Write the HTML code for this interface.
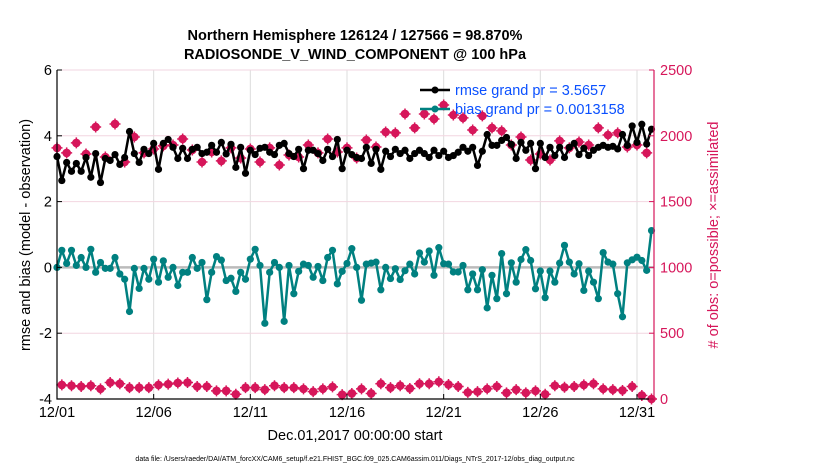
<!DOCTYPE html>
<html><head><meta charset="utf-8"><style>
body{margin:0;background:#fff;width:830px;height:470px;overflow:hidden;font-family:"Liberation Sans",sans-serif}
</style></head><body>
<svg id="chart" width="830" height="470" xmlns="http://www.w3.org/2000/svg" font-family="Liberation Sans, sans-serif">
<text x="355" y="40" text-anchor="middle" font-size="14.5" font-weight="bold">Northern Hemisphere 126124 / 127566 = 98.870%</text>
<text x="355" y="59" text-anchor="middle" font-size="14.5" font-weight="bold">RADIOSONDE_V_WIND_COMPONENT @ 100 hPa</text>
<g id="grid"></g><g id="marks"></g><g id="axes"></g>
<text x="355" y="440" text-anchor="middle" font-size="14.5">Dec.01,2017 00:00:00 start</text>
<text transform="translate(30,235) rotate(-90)" text-anchor="middle" font-size="14.5">rmse and bias (model - observation)</text>
<text transform="translate(718,235) rotate(-90)" text-anchor="middle" font-size="14.5" fill="#d6165a"># of obs: o=possible; ×=assimilated</text>
<text x="355" y="461" text-anchor="middle" font-size="7">data file: /Users/raeder/DAI/ATM_forcXX/CAM6_setup/f.e21.FHIST_BGC.f09_025.CAM6assim.011/Diags_NTrS_2017-12/obs_diag_output.nc</text>
<g>
<line x1="420" y1="90" x2="450" y2="90" stroke="#000" stroke-width="2.5"/><circle cx="435" cy="90" r="3.5" fill="#000"/>
<text x="455" y="95" font-size="14.5" fill="#0a50ff">rmse grand pr = 3.5657</text>
<line x1="420" y1="109" x2="450" y2="109" stroke="#008080" stroke-width="2.5"/><circle cx="435" cy="109" r="3.5" fill="#008080"/>
<text x="455" y="114" font-size="14.5" fill="#0a50ff">bias grand pr = 0.0013158</text>
</g>
</svg>
<script>
const rmse=[3.37,2.64,3.19,2.92,3.16,2.92,3.34,2.74,3.46,2.58,3.31,3.25,3.43,3.13,3.34,4.13,3.46,3.19,3.59,3.46,3.77,2.98,3.77,3.89,3.65,3.31,3.62,3.31,3.59,3.65,3.46,3.5,3.71,3.5,3.8,3.45,3.74,3.04,3.65,2.86,3.56,3.43,3.62,3.65,3.5,3.43,3.71,3.77,3.46,3.37,3.59,3.0,3.56,3.56,3.46,3.25,3.59,3.37,3.89,3.0,3.56,
3.43,3.34,3.31,3.65,3.16,3.59,2.98,3.53,3.37,3.59,3.46,3.56,3.31,3.46,3.56,3.46,3.34,3.56,3.4,3.53,3.34,3.4,3.5,3.65,3.53,3.65,3.1,3.53,4.04,3.71,3.71,3.86,3.95,3.74,3.31,3.8,3.56,3.77,3.0,3.77,3.34,3.65,3.4,3.65,3.34,3.65,3.77,3.43,3.62,3.4,3.56,3.65,3.71,3.65,3.68,3.6,4.04,3.71,4.3,3.8,4.35,3.75,4.2];
const bias=[0,0.52,0.12,0.52,0.06,0.3,0,0.55,-0.15,0.15,-0.03,-0.03,0.3,-0.2,-0.36,-1.34,-0.03,-0.64,-0.03,-0.36,0.25,-0.45,0.2,-0.3,0,-0.55,-0.15,-0.15,0.3,-0.03,0.15,-0.98,-0.15,0.33,0.22,-0.4,-0.33,-0.73,-0.15,-0.36,0.25,0.55,0.06,-1.7,-0.15,0.15,0,-1.64,0.06,-0.8,-0.12,0.1,0.06,-0.3,0.03,-0.4,0.3,0.52,-0.5,-0.12,0.12,
0.57,0,-1.0,0.1,0.13,0.16,-0.68,0,-0.34,-0.04,-0.37,-0.1,0.1,-0.2,0.44,0.16,0.5,-0.24,0.6,0.11,0.1,-0.14,-0.14,0.06,-0.68,-0.2,-0.68,-0.07,-1.23,-0.24,-0.95,0.42,-0.8,0.14,-0.45,0.24,0.54,0.21,-0.65,-0.11,-0.92,-0.11,-0.45,0.13,0.67,0.16,-0.2,0.11,-0.7,-0.11,-0.45,-0.95,0.45,0.16,0.1,-0.8,-1.5,0.14,0.23,0.31,0.21,-0.09,1.12];
const obsMain=[1908,1870,1946,1862,2067,1839,2090,1801,1991,1870,1900,1923,1930,1976,1892,1801,1877,1809,1908,1831,1900,1801,1908,1778,1854,1839,1930,1870,1976,1877,1908,
1831,1968,1915,2029,2022,2166,2060,2166,2128,2234,2158,2136,2044,2151,2060,2037,1930,1991,1816,1862,1816,1961,1908,1953,1930,2060,2006,2022,1915,1930,1870];
const obsOff=[107,101,95,101,77,125,116,86,86,86,107,113,122,125,95,95,62,62,36,86,86,71,101,86,86,77,56,77,92,33,42,77,42,116,86,101,80,116,116,131,110,95,50,56,77,95,47,71,47,62,36,101,89,95,107,116,77,71,65,95,27,0];
const xTickLabels=['12/01','12/06','12/11','12/16','12/21','12/26','12/31'];
const xTickDays=[0,5,10,15,20,25,30];
const yLeftTicks=[6,4,2,0,-2,-4];
const yRightTicks=[2500,2000,1500,1000,500,0];

const L=57,R=654,T=70,B=399,dayW=(637-57)/30;
const x=i=>L+i*dayW/4;
const xd=d=>L+d*dayW;
const yl=v=>B-(v+4)/10*(B-T);
const yr=v=>B-v/2500*(B-T);
const NS='http://www.w3.org/2000/svg';
function mk(tag,attrs,parent){const e=document.createElementNS(NS,tag);for(const k in attrs)e.setAttribute(k,attrs[k]);parent.appendChild(e);return e;}
const grid=document.getElementById('grid'),marks=document.getElementById('marks'),axes=document.getElementById('axes');
xTickDays.forEach((d,i)=>{const g=mk('line',{x1:xd(d),x2:xd(d),y1:T,y2:B,stroke:'#dcdcdc','stroke-width':1},grid);

});
yRightTicks.forEach(v=>{const g=mk('line',{x1:L,x2:R,y1:yr(v),y2:yr(v),stroke:'#f2d6e0','stroke-width':1},grid);

});
const z=mk('line',{x1:L,x2:R,y1:yl(0),y2:yl(0),stroke:'#bbb','stroke-width':2.5},grid);


function star(cx,cy,name){const g=mk('g',{},marks);


mk('circle',{cx:cx,cy:cy,r:4.3,fill:'#d6165a'},g);
mk('path',{d:`M${cx-5.5} ${cy}H${cx+5.5}M${cx} ${cy-5.5}V${cy+5.5}`,stroke:'#d6165a','stroke-width':1.5},g);}
obsMain.forEach((v,k)=>star(x(2*k),yr(v),'obs-count-point'));
obsOff.forEach((v,k)=>star(x(2*k+1),Math.min(yr(v),B),'obs-count-point'));
function series(arr,color,name){
const p=mk('polyline',{points:arr.map((v,i)=>x(i)+','+yl(v)).join(' '),fill:'none',stroke:color,'stroke-width':2.5,'stroke-linejoin':'round'},marks);


arr.forEach((v,i)=>{const c=mk('circle',{cx:x(i),cy:yl(v),r:3.6,fill:color},marks);

});}
series(bias,'#008080','bias');
series(rmse,'#000','rmse');
const ax=mk('path',{d:`M${L} ${T}V${B}H${R}`,stroke:'#000','stroke-width':1.2,fill:'none'},axes);


const ra=mk('line',{x1:R,x2:R,y1:T,y2:B,stroke:'#d6165a','stroke-width':1.2},axes);


xTickDays.forEach((d,i)=>{mk('line',{x1:xd(d),x2:xd(d),y1:B,y2:B-5,stroke:'#000'},axes);
const t=mk('text',{x:xd(d),y:B+18,'text-anchor':'middle','font-size':14.5},axes);t.textContent=xTickLabels[i];

});
yLeftTicks.forEach(v=>{mk('line',{x1:L,x2:L+5,y1:yl(v),y2:yl(v),stroke:'#000'},axes);
const t=mk('text',{x:L-5,y:yl(v)+5,'text-anchor':'end','font-size':14.5},axes);t.textContent=v;

});
yRightTicks.forEach(v=>{mk('line',{x1:R,x2:R-5,y1:yr(v),y2:yr(v),stroke:'#d6165a'},axes);
const t=mk('text',{x:R+6,y:yr(v)+5,'font-size':14.5,fill:'#d6165a'},axes);t.textContent=v;

});
</script>
</body></html>
